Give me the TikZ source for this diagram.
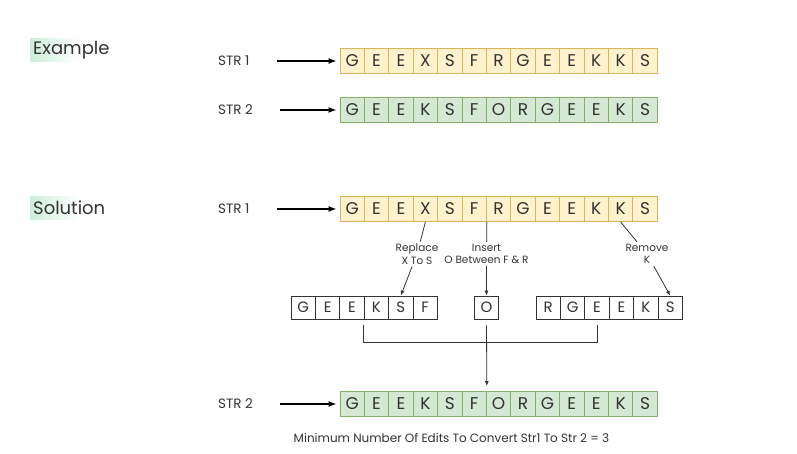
\documentclass[tikz,border=0pt]{standalone}
\usepackage{fontspec}
\setmainfont{Poppins}
\usepackage{tikz}
\usetikzlibrary{arrows.meta}
\usetikzlibrary{calc}
\definecolor{ylfill}{HTML}{FFF2CC}
\definecolor{yldraw}{HTML}{D6B656}
\definecolor{grfill}{HTML}{D5E8D4}
\definecolor{grdraw}{HTML}{82B366}
\definecolor{txt}{HTML}{333333}
\definecolor{hdgreen}{HTML}{CDEFD9}

\begin{document}
\begin{tikzpicture}[x=1pt, y=1pt,
    cell/.style={minimum width=24.4pt, minimum height=25pt, inner sep=0pt, line width=0.9pt, text=txt, font=\fontsize{17}{17}\selectfont},
    ycell/.style={cell, draw=yldraw, fill=ylfill},
    gcell/.style={cell, draw=grdraw, fill=grfill},
    wcell/.style={cell, draw=txt, fill=white, line width=0.8pt, minimum height=23pt, font=\fontsize{15}{15}\selectfont},
    lbl/.style={anchor=west, inner sep=0pt, text=txt, font=\fontsize{13.5}{13.5}\selectfont},
    note/.style={align=center, inner sep=2pt, text=txt, font=\fontsize{10.5}{12.5}\selectfont},
    head/.style={anchor=west, inner xsep=3pt, inner ysep=0pt, minimum height=24pt, text=txt, font=\fontsize{18}{18}\selectfont,
      path picture={\foreach \k in {0,...,19} {
          \pgfmathtruncatemacro\pct{100-5*\k}
          \fill[hdgreen!\pct!white] ([xshift={2.4*\k}]path picture bounding box.south west) rectangle ([xshift={2.4*\k+2.5}]path picture bounding box.north west);
      }}},
    bigarr/.style={-{Latex[length=8pt,width=6pt]}, line width=1.4pt, shorten <=27pt, shorten >=3pt},
    link/.style={line width=0.8pt, draw=txt},
    tip/.style={link, -{Latex[length=5pt,width=4pt]}}
  ]
    \useasboundingbox (0,0) rectangle (797,-454);

    \node[head] (ex) at (30,-50) {Example};
    \node[head] (sol) at (30,-208) {Solution};

    \node[lbl] (l1) at (218,-61) {STR 1};
    \node[lbl] (l2) at (218,-110) {STR 2};
    \node[lbl] (l3) at (218,-209) {STR 1};
    \node[lbl] (l4) at (218,-404) {STR 2};

    \foreach \c [count=\i from 0] in {G,E,E,X,S,F,R,G,E,E,K,K,S} {
        \node[ycell] (a1-\i) at (352.2+24.4*\i,-61) {\c};
        \node[ycell] (s1-\i) at (352.2+24.4*\i,-209) {\c};
    }
    \foreach \c [count=\i from 0] in {G,E,E,K,S,F,O,R,G,E,E,K,S} {
        \node[gcell] (a2-\i) at (352.2+24.4*\i,-110) {\c};
        \node[gcell] (s2-\i) at (352.2+24.4*\i,-404) {\c};
    }
    \foreach \c [count=\i from 0] in {G,E,E,K,S,F}
        \node[wcell] (m-\i) at (303.2+24.4*\i,-307.5) {\c};
    \node[wcell] (o) at (486.5,-307.5) {O};
    \foreach \c [count=\i from 0] in {R,G,E,E,K,S}
        \node[wcell] (r-\i) at (548.2+24.4*\i,-307.5) {\c};

    \draw[bigarr] (l1) -- (a1-0);
    \draw[bigarr] (l2) -- (a2-0);
    \draw[bigarr] (l3) -- (s1-0);
    \draw[bigarr] (l4) -- (s2-0);

    \node[note] (rep) at (417,-254) {Replace\\X To S};
    \node[note] (ins) at (486.5,-254) {Insert\\O Between F \& R};
    \node[note] (rem) at (647,-254) {Remove\\K};

    \draw[link] (s1-3.south) -- (rep);
    \draw[tip] (rep) -- (m-4.north);
    \draw[link] (s1-5.south east) -- (ins);
    \draw[tip] (ins) -- (o.north);
    \draw[link] (s1-11.south) -- (rem);
    \draw[tip] (rem) -- (r-5.north);

    \draw[link] ([yshift=-6pt]m-3.south west) -- ++(0,-17) -| ([yshift=-6pt]r-2.south);
    \draw[tip, shorten >=5pt] ([yshift=-6pt]o.south) -- (s2-5.north east);

    \node[note, font=\fontsize{12}{14}\selectfont] (sum) at (451.5,-438) {Minimum Number Of Edits To Convert Str1 To Str 2 = 3};
\end{tikzpicture}
\end{document}
